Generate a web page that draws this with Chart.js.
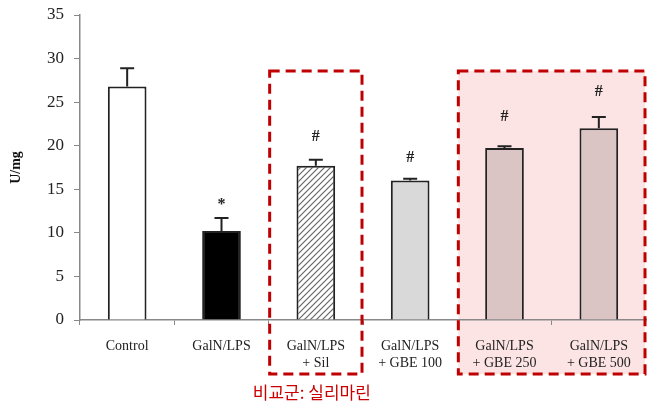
<!DOCTYPE html>
<html>
<head>
<meta charset="utf-8">
<script src="https://cdn.jsdelivr.net/npm/chart.js@4"></script>
<style>
    html, body { margin: 0; padding: 0; background: #fff; }
    #wrap { position: relative; width: 648px; height: 407px; }
</style>
</head>
<body>
<div id="wrap"><canvas id="chart" width="648" height="407"></canvas></div>
<script>
// 數據
const labels = [
    ['Control'],
    ['GalN/LPS'],
    ['GalN/LPS', '+ Sil'],
    ['GalN/LPS', '+ GBE 100'],
    ['GalN/LPS', '+ GBE 250'],
    ['GalN/LPS', '+ GBE 500']
];
const values = [26.8, 10.2, 17.7, 16.0, 19.75, 22.0];
const errors = [2.1, 1.5, 0.7, 0.2, 0.2, 1.3];
const marks = ['', '*', '#', '#', '#', '#'];
const markLevels = [null, 13.2, 21.0, 18.6, 23.3, 26.2];
const yTicks = [0, 5, 10, 15, 20, 25, 30, 35];
const noteText = '비교군: 실리마린';

// 斜線填充
function makeHatch() {
    const c = document.createElement('canvas');
    c.width = 6; c.height = 6;
    const g = c.getContext('2d');
    g.fillStyle = '#fff';
    g.fillRect(0, 0, 6, 6);
    g.strokeStyle = '#666';
    g.lineWidth = 1.2;
    g.beginPath();
    g.moveTo(0, 6); g.lineTo(6, 0);
    g.moveTo(-3, 3); g.lineTo(3, -3);
    g.moveTo(3, 9); g.lineTo(9, 3);
    g.stroke();
    return g.createPattern(c, 'repeat');
}

const ctx = document.getElementById('chart').getContext('2d');
const fills = ['#ffffff', '#000000', makeHatch(), '#d9d9d9', '#dbc4c4', '#dbc4c4'];

// 框 (類別索引範圍)
const boxes = [
    { from: 2, to: 2, fill: false },
    { from: 4, to: 5, fill: true }
];

function boxRect(chart, b) {
    const x = chart.scales.x;
    const half = (x.getPixelForValue(1) - x.getPixelForValue(0)) / 2;
    return {
        left: x.getPixelForValue(b.from) - half + 1,
        right: Math.min(x.getPixelForValue(b.to) + half - 1, chart.width - 3),
        top: 71,
        bottom: 374
    };
}

const extras = {
    id: 'extras',
    beforeDraw(chart) {
        const c = chart.ctx;
        boxes.forEach(b => {
            if (!b.fill) return;
            const r = boxRect(chart, b);
            c.save();
            c.fillStyle = '#fde4e4';
            c.fillRect(r.left, r.top, r.right - r.left, r.bottom - r.top);
            c.restore();
        });
    },
    afterDatasetsDraw(chart) {
        const c = chart.ctx;
        const x = chart.scales.x, y = chart.scales.y;
        c.save();
        // 誤差線
        c.strokeStyle = '#222';
        c.lineWidth = 2;
        values.forEach((v, i) => {
            const px = x.getPixelForValue(i);
            const y0 = y.getPixelForValue(v);
            const y1 = y.getPixelForValue(v + errors[i]);
            c.beginPath();
            c.moveTo(px, y0);
            c.lineTo(px, y1);
            c.moveTo(px - 7, y1);
            c.lineTo(px + 7, y1);
            c.stroke();
        });
        // 標記
        c.fillStyle = '#222';
        c.font = 'bold 16px "Liberation Serif"';
        c.textAlign = 'center';
        c.textBaseline = 'middle';
        marks.forEach((m, i) => {
            if (!m) return;
            c.fillText(m, x.getPixelForValue(i), y.getPixelForValue(markLevels[i]));
        });
        c.restore();
    },
    afterDraw(chart) {
        const c = chart.ctx;
        c.save();
        c.strokeStyle = '#c00000';
        c.lineWidth = 3;
        c.setLineDash([10, 6]);
        boxes.forEach(b => {
            const r = boxRect(chart, b);
            c.strokeRect(r.left, r.top, r.right - r.left, r.bottom - r.top);
        });
        c.setLineDash([]);
        c.fillStyle = '#cc0000';
        c.font = '17px "Noto Sans CJK KR"';
        c.textAlign = 'center';
        c.textBaseline = 'middle';
        c.fillText(noteText, chart.scales.x.getPixelForValue(2) - 4, 393);
        c.restore();
    }
};

new Chart(ctx, {
    type: 'bar',
    data: {
        labels: labels,
        datasets: [{
            data: values,
            backgroundColor: fills,
            borderColor: '#222',
            borderWidth: 2,
            borderSkipped: 'bottom',
            categoryPercentage: 1.0,
            barPercentage: 0.41
        }]
    },
    options: {
        responsive: false,
        animation: false,
        layout: { padding: { top: 15, right: 2, left: 0, bottom: 0 } },
        plugins: {
            legend: { display: false },
            tooltip: { enabled: false }
        },
        scales: {
            x: {
                grid: { display: true, drawOnChartArea: false, drawTicks: true, tickLength: 5, color: '#888', offset: true },
                border: { color: '#888', width: 1.5 },
                ticks: {
                    color: '#222',
                    font: { family: 'Liberation Serif', size: 14 },
                    padding: 13,
                    maxRotation: 0,
                    autoSkip: false
                },
                afterFit(scale) { scale.height = 87; scale.paddingLeft = 0; scale.paddingRight = 0; }
            },
            y: {
                min: 0,
                max: 35,
                afterBuildTicks(scale) { scale.ticks = yTicks.map(v => ({ value: v })); },
                grid: { display: true, drawOnChartArea: false, drawTicks: true, tickLength: 6, color: '#888' },
                border: { color: '#888', width: 1.5 },
                ticks: {
                    color: '#222',
                    font: { family: 'Liberation Serif', size: 17 },
                    padding: 10
                },
                title: {
                    display: true,
                    text: 'U/mg',
                    color: '#111',
                    font: { family: 'Liberation Serif', size: 14, weight: 'bold' },
                    padding: { top: 8, bottom: 6 }
                },
                afterFit(scale) { scale.width = 80; scale.paddingTop = 0; scale.paddingBottom = 0; }
            }
        }
    },
    plugins: [extras]
});
</script>
</body>
</html>
